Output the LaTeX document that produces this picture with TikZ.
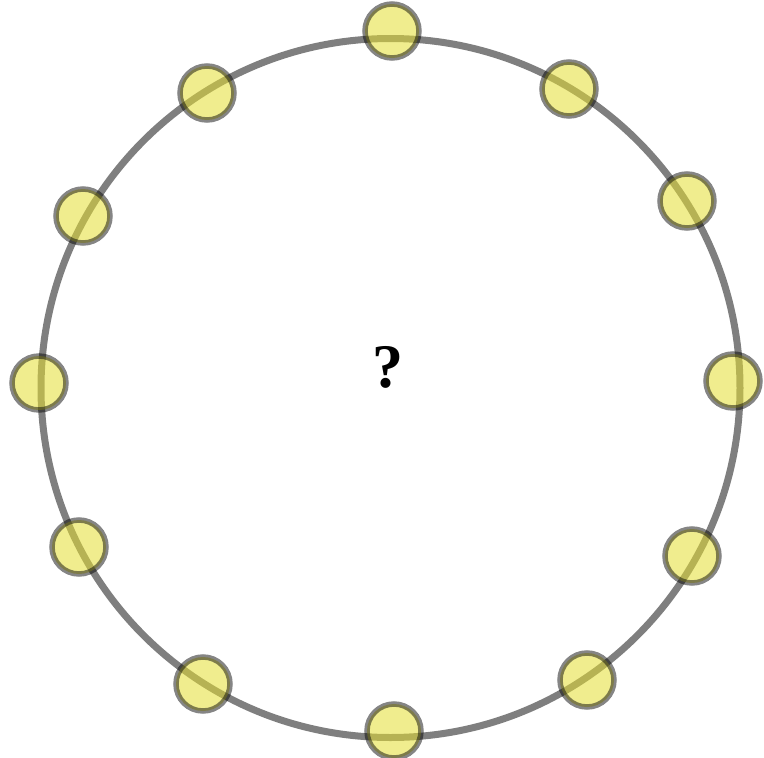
\documentclass[tikz,border=0pt]{standalone}
\usepackage{fontspec}
\setmainfont{Liberation Serif}
\begin{document}
\begin{tikzpicture}[x=1pt,y=-1pt,
  ring/.style={draw=black,draw opacity=0.5,line width=7pt},
  dot/.style={circle,inner sep=0pt,minimum size=54pt,fill={rgb,255:red,228;green,222;blue,50},fill opacity=0.55,draw=black,draw opacity=0.48,line width=5.5pt},
  qmark/.style={font=\fontsize{62}{62}\selectfont\bfseries,inner sep=0pt}]
\useasboundingbox (0,0) rectangle (764,758);
\coordinate (c) at (390.5,388);
\draw[ring] (c) circle[radius=349.5];
\node[dot] (d1) at (392,31) {};
\node[dot] (d2) at (569,89) {};
\node[dot] (d3) at (687,201) {};
\node[dot] (d4) at (733,381) {};
\node[dot] (d5) at (692,556) {};
\node[dot] (d6) at (587,680) {};
\node[dot] (d7) at (394,731) {};
\node[dot] (d8) at (203,684) {};
\node[dot] (d9) at (79,547) {};
\node[dot] (d10) at (39,383) {};
\node[dot] (d11) at (83,216) {};
\node[dot] (d12) at (207,93) {};
\node[qmark] (q) at (388,367) {?};
\end{tikzpicture}
\end{document}
